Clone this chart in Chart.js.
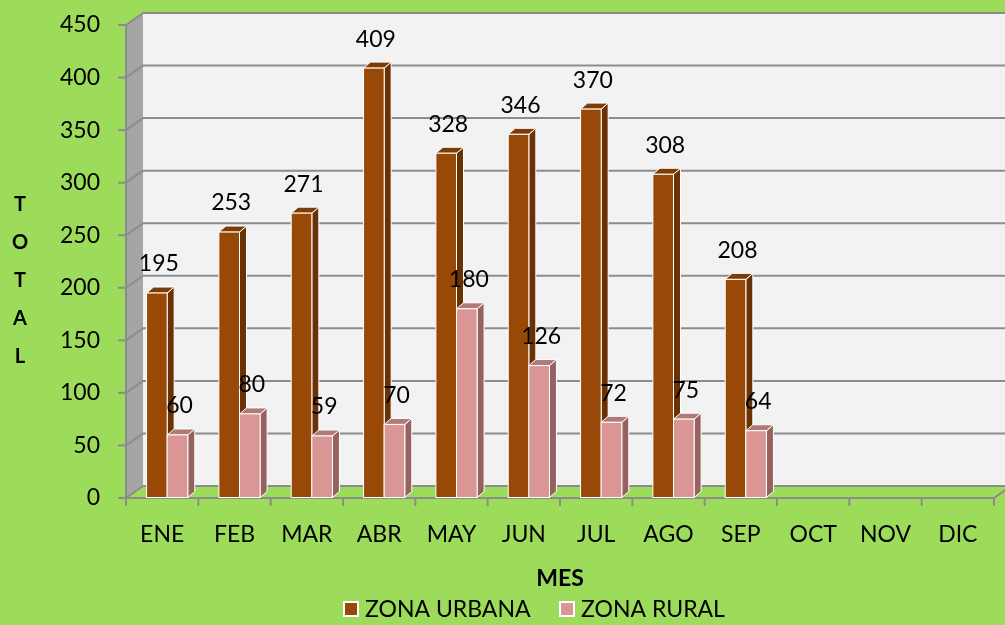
<!DOCTYPE html>
<html>
<head>
<meta charset="utf-8">
<script src="https://cdn.jsdelivr.net/npm/chart.js@4"></script>
<style>
  html, body { margin: 0; padding: 0; background: #9ddc5a; }
</style>
</head>
<body>
<canvas id="grafico" width="1005" height="625"></canvas>
<script>
// datos del grafico
const meses = ['ENE', 'FEB', 'MAR', 'ABR', 'MAY', 'JUN', 'JUL', 'AGO', 'SEP', 'OCT', 'NOV', 'DIC'];
const zonaUrbana = [195, 253, 271, 409, 328, 346, 370, 308, 208];
const zonaRural = [60, 80, 59, 70, 180, 126, 72, 75, 64];
const series = ['ZONA URBANA', 'ZONA RURAL'];
const ejeY = [0, 50, 100, 150, 200, 250, 300, 350, 400, 450];
const tituloY = ['T', 'O', 'T', 'A', 'L'];

const VERDE = '#9ddc5a';
const GRIS = '#8c8c8c';
const FUENTE = 'Lato, "Open Sans", sans-serif';
const colores = [
    { frente: '#984807', lado: '#6a3104', arriba: '#7d3b05' },
    { frente: '#d99694', lado: '#956260', arriba: '#b07a78' }
];
// profundidad de la pared y de las barras
const DX = 17, DY = 12;
const BDX = 7, BDY = 6;
const CORRER = 5;

function linea(ctx, x1, y1, x2, y2) {
    ctx.beginPath();
    ctx.moveTo(x1, y1);
    ctx.lineTo(x2, y2);
    ctx.stroke();
}

function poligono(ctx, pts, relleno) {
    ctx.beginPath();
    ctx.moveTo(pts[0][0], pts[0][1]);
    for (let i = 1; i < pts.length; i++) ctx.lineTo(pts[i][0], pts[i][1]);
    ctx.closePath();
    ctx.fillStyle = relleno;
    ctx.fill();
}

function dibujarBarra(ctx, el, c) {
    const x0 = el.x - el.width / 2 + CORRER;
    const x1 = el.x + el.width / 2 + CORRER;
    const top = el.y, base = el.base;
    ctx.strokeStyle = '#ffffff';
    ctx.lineWidth = 1;
    poligono(ctx, [[x1, top], [x1 + BDX, top - BDY], [x1 + BDX, base - BDY], [x1, base]], c.lado);
    ctx.stroke();
    poligono(ctx, [[x0, top], [x0 + BDX, top - BDY], [x1 + BDX, top - BDY], [x1, top]], c.arriba);
    ctx.stroke();
    ctx.fillStyle = c.frente;
    ctx.fillRect(x0, top, x1 - x0, base - top);
    ctx.strokeRect(x0, top, x1 - x0, base - top);
}

const escena3D = {
    id: 'escena3D',
    beforeDraw(chart) {
        const { ctx, chartArea: a, scales: { y } } = chart;
        ctx.save();
        ctx.fillStyle = VERDE;
        ctx.fillRect(0, 0, chart.width, chart.height);

        // pared del fondo
        ctx.fillStyle = '#f2f2f2';
        ctx.fillRect(a.left + DX, a.top - DY, chart.width - a.left - DX, a.bottom - a.top);
        // pared lateral
        poligono(ctx, [[a.left, a.top], [a.left + DX, a.top - DY], [a.left + DX, a.bottom - DY], [a.left, a.bottom]], '#a5a5a5');
        // piso
        poligono(ctx, [[a.left, a.bottom], [a.left + DX, a.bottom - DY], [a.right + DX, a.bottom - DY], [a.right, a.bottom]], VERDE);

        ctx.strokeStyle = GRIS;
        ctx.lineWidth = 2;
        ejeY.forEach(v => {
            const py = y.getPixelForValue(v);
            linea(ctx, a.left, py, a.left + DX, py - DY);
            linea(ctx, a.left + DX, py - DY, chart.width, py - DY);
            linea(ctx, a.left - 8, py, a.left, py);
        });
        linea(ctx, a.left, a.top, a.left, a.bottom);
        linea(ctx, a.left, a.bottom, a.right, a.bottom);
        linea(ctx, a.right, a.bottom, a.right + DX, a.bottom - DY);
        const paso = (a.right - a.left) / meses.length;
        for (let i = 0; i <= meses.length; i++) {
            const px = a.left + i * paso;
            linea(ctx, px, a.bottom, px, a.bottom + 8);
        }

        // titulo vertical
        ctx.fillStyle = '#000';
        ctx.font = 'bold 20px ' + FUENTE;
        ctx.textAlign = 'center';
        ctx.textBaseline = 'middle';
        tituloY.forEach((t, i) => ctx.fillText(t, 20, 205 + i * 38));
        ctx.restore();
    },
    beforeDatasetsDraw(chart) {
        const ctx = chart.ctx;
        const metas = [chart.getDatasetMeta(0), chart.getDatasetMeta(1)];
        ctx.save();
        for (let i = 0; i < meses.length; i++) {
            metas.forEach((m, d) => {
                const el = m.data[i];
                if (el && !isNaN(el.y)) dibujarBarra(ctx, el, colores[d]);
            });
        }
        ctx.fillStyle = '#000';
        ctx.font = '23px ' + FUENTE;
        ctx.textAlign = 'center';
        ctx.textBaseline = 'middle';
        metas.forEach((m, d) => {
            const valores = chart.data.datasets[d].data;
            m.data.forEach((el, i) => {
                ctx.fillText(valores[i], el.x + CORRER + 2, el.y - 29);
            });
        });
        ctx.restore();
        return false;
    },
    afterDraw(chart) {
        // leyenda
        const ctx = chart.ctx;
        const cajas = [343, 559];
        ctx.save();
        ctx.font = '23px ' + FUENTE;
        ctx.textBaseline = 'middle';
        ctx.textAlign = 'left';
        chart.data.datasets.forEach((ds, d) => {
            ctx.fillStyle = ds.backgroundColor;
            ctx.fillRect(cajas[d] + 1, 602, 14, 14);
            ctx.strokeStyle = '#ffffff';
            ctx.lineWidth = 2;
            ctx.strokeRect(cajas[d] + 1, 602, 14, 14);
            ctx.fillStyle = '#000';
            ctx.fillText(ds.label, cajas[d] + 22, 610);
        });
        ctx.restore();
    }
};

// la rejilla de Chart.js solo se usa para separar las etiquetas del eje
const rejillaOculta = { display: true, drawOnChartArea: false, drawTicks: true, color: 'rgba(0,0,0,0)' };

new Chart(document.getElementById('grafico'), {
    type: 'bar',
    data: {
        labels: meses,
        datasets: [
            { label: series[0], data: zonaUrbana, backgroundColor: colores[0].frente, borderColor: '#ffffff', borderWidth: 1 },
            { label: series[1], data: zonaRural, backgroundColor: colores[1].frente, borderColor: '#ffffff', borderWidth: 1 }
        ]
    },
    options: {
        responsive: false,
        animation: false,
        devicePixelRatio: 1,
        layout: { autoPadding: false, padding: { top: 25, right: 11, left: 0, bottom: 0 } },
        datasets: { bar: { barPercentage: 1, categoryPercentage: 0.57 } },
        scales: {
            x: {
                grid: { ...rejillaOculta, tickLength: 20 },
                border: { display: false },
                ticks: { color: '#000', font: { family: FUENTE, size: 23 }, padding: 3 },
                title: { display: true, text: 'MES', color: '#000', font: { family: FUENTE, size: 23, weight: 'bold' }, padding: { top: 33, bottom: 33 } },
                afterFit(scale) { scale.height = 127; }
            },
            y: {
                min: 0,
                max: 450,
                grid: { ...rejillaOculta, tickLength: 23 },
                border: { display: false },
                ticks: { stepSize: 50, color: '#000', font: { family: FUENTE, size: 23 }, padding: 3 },
                afterFit(scale) { scale.width = 126; }
            }
        },
        plugins: {
            legend: { display: false },
            tooltip: { enabled: false }
        }
    },
    plugins: [escena3D]
});
</script>
</body>
</html>
